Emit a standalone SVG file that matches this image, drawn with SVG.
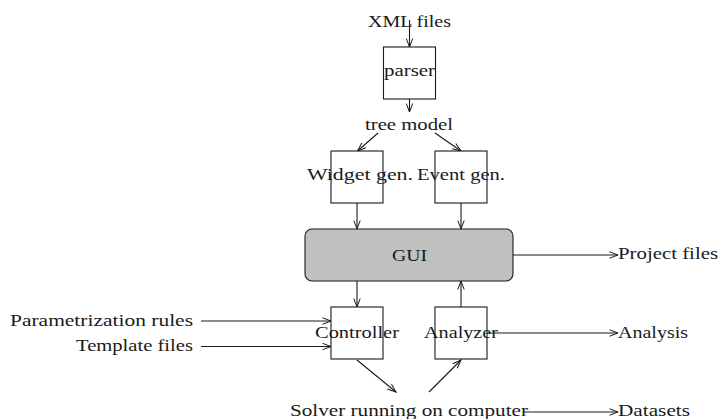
<svg xmlns="http://www.w3.org/2000/svg" width="720" height="419" viewBox="0 0 720 419">
  <style>
    .box { fill: #ffffff; stroke: #1a1a1a; stroke-width: 1.1; }
    .gui { fill: #c0c0c0; stroke: #1a1a1a; stroke-width: 1.1; }
    .lbl { font-family: "Liberation Serif", "Times New Roman", serif; font-size: 17px; fill: #1a1a1a; }
    .edge { fill: none; stroke: #1a1a1a; stroke-width: 1.1; marker-end: url(#arr); }
  </style>
  <defs>
    <marker id="arr" markerUnits="userSpaceOnUse" markerWidth="12" markerHeight="10" refX="9" refY="4" orient="auto">
      <path d="M0.5,0.8 L9,4 L0.5,7.2" fill="none" stroke="#1a1a1a" stroke-width="1"/>
    </marker>
  </defs>
  <rect width="720" height="419" fill="#ffffff"/>

  <!-- connectors -->
  <g id="connectors">
    <line class="edge" x1="409.5" y1="20" x2="409.5" y2="47"/>
    <line class="edge" x1="409.5" y1="99" x2="409.5" y2="112"/>
    <line class="edge" x1="378" y1="133" x2="357.5" y2="151"/>
    <line class="edge" x1="435" y1="133" x2="461" y2="151"/>
    <line class="edge" x1="357" y1="203" x2="357" y2="229"/>
    <line class="edge" x1="461" y1="203" x2="461" y2="229"/>
    <line class="edge" x1="357" y1="281" x2="357" y2="307"/>
    <line class="edge" x1="461" y1="307" x2="461" y2="281"/>
    <line class="edge" x1="513" y1="255" x2="618" y2="255"/>
    <line class="edge" x1="201" y1="321" x2="331" y2="321"/>
    <line class="edge" x1="201" y1="346.5" x2="331" y2="346.5"/>
    <line class="edge" x1="357" y1="360" x2="396" y2="392"/>
    <line class="edge" x1="429" y1="392" x2="461" y2="360"/>
    <line class="edge" x1="487" y1="333" x2="618" y2="333"/>
    <line class="edge" x1="523" y1="412" x2="618" y2="412"/>
  </g>

  <!-- sources and sinks -->
  <g id="xml-files"><text class="lbl" x="368" y="27" textLength="83" lengthAdjust="spacingAndGlyphs">XML files</text></g>
  <g id="tree-model"><text class="lbl" x="365" y="130" textLength="88" lengthAdjust="spacingAndGlyphs">tree model</text></g>
  <g id="project-files"><text class="lbl" x="618" y="259" textLength="100" lengthAdjust="spacingAndGlyphs">Project files</text></g>
  <g id="param-rules"><text class="lbl" x="10" y="326" textLength="183" lengthAdjust="spacingAndGlyphs">Parametrization rules</text></g>
  <g id="template-files"><text class="lbl" x="76" y="351" textLength="117" lengthAdjust="spacingAndGlyphs">Template files</text></g>
  <g id="analysis"><text class="lbl" x="618" y="338" textLength="70" lengthAdjust="spacingAndGlyphs">Analysis</text></g>
  <g id="solver"><text class="lbl" x="290" y="416" textLength="238" lengthAdjust="spacingAndGlyphs">Solver running on computer</text></g>
  <g id="datasets"><text class="lbl" x="618" y="416" textLength="72" lengthAdjust="spacingAndGlyphs">Datasets</text></g>

  <!-- processing blocks -->
  <g id="parser">
    <rect class="box" x="383.5" y="47" width="52" height="52"/>
    <text class="lbl" x="384" y="76" textLength="51" lengthAdjust="spacingAndGlyphs">parser</text>
  </g>
  <g id="widget-gen">
    <rect class="box" x="331" y="151" width="52" height="52"/>
    <text class="lbl" x="307" y="180" textLength="106" lengthAdjust="spacingAndGlyphs">Widget gen.</text>
  </g>
  <g id="event-gen">
    <rect class="box" x="435" y="151" width="52" height="52"/>
    <text class="lbl" x="417" y="180" textLength="88" lengthAdjust="spacingAndGlyphs">Event gen.</text>
  </g>
  <g id="gui">
    <rect class="gui" x="305" y="229" width="208" height="52" rx="7" ry="7"/>
    <text class="lbl" x="392" y="261" textLength="35" lengthAdjust="spacingAndGlyphs">GUI</text>
  </g>
  <g id="controller">
    <rect class="box" x="331" y="307" width="52" height="52"/>
    <text class="lbl" x="315" y="338" textLength="84" lengthAdjust="spacingAndGlyphs">Controller</text>
  </g>
  <g id="analyzer">
    <rect class="box" x="435" y="307" width="52" height="52"/>
    <text class="lbl" x="424" y="338" textLength="74" lengthAdjust="spacingAndGlyphs">Analyzer</text>
  </g>
</svg>
